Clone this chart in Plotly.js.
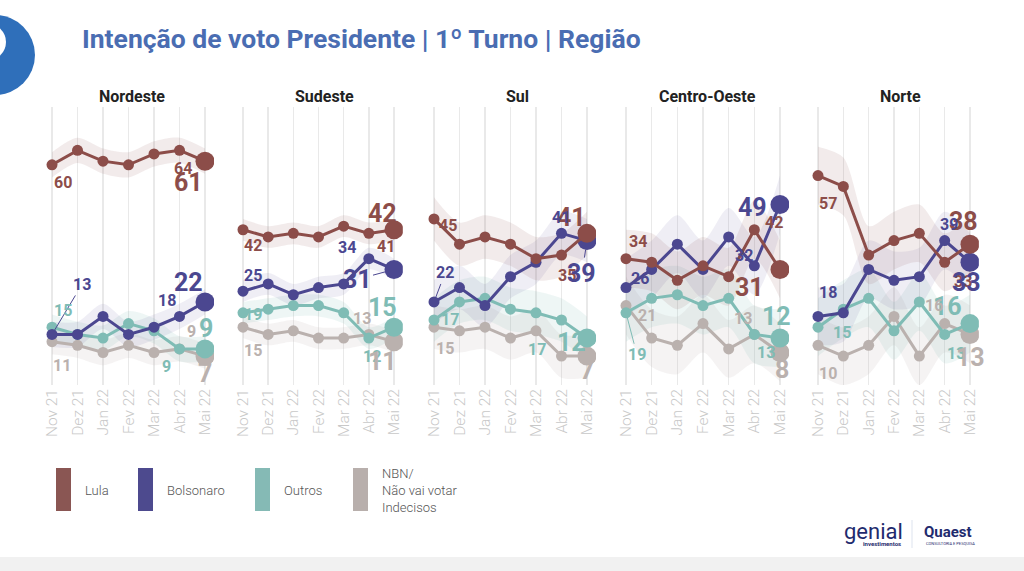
<!DOCTYPE html>
<html><head><meta charset="utf-8">
<script src="https://cdn.plot.ly/plotly-3.0.1.min.js"></script>
<style>html,body{margin:0;padding:0;background:#fff;overflow:hidden}#chart{width:1024px;height:571px}</style>
</head><body><div id="chart"></div><script>
// ---------- DATA ----------
const months = ['Nov 21','Dez 21','Jan 22','Fev 22','Mar 22','Abr 22','Mai 22'];
const regions = ['Nordeste','Sudeste','Sul','Centro-Oeste','Norte'];
const seriesNames = ['Lula','Bolsonaro','Outros','NBN'];
const legendLabels = ['Lula','Bolsonaro','Outros','NBN/<br>Não vai votar<br>Indecisos'];

const lulaNordeste      = [60,64,61,60,63,64,61];
const bolsonaroNordeste = [13,13,18,13,15,18,22];
const outrosNordeste    = [15,13,12,16,14,9,9];
const nbnNordeste       = [11,10,8,10,8,9,7];

const lulaSudeste      = [42,40,41,40,43,41,42];
const bolsonaroSudeste = [25,27,24,26,27,34,31];
const outrosSudeste    = [19,20,21,21,19,12,15];
const nbnSudeste       = [15,13,14,12,12,13,11];

const lulaSul      = [45,38,40,38,34,35,41];
const bolsonaroSul = [22,26,21,29,33,41,39];
const outrosSul    = [17,22,23,20,19,17,12];
const nbnSul       = [15,14,15,12,14,7,7];

const lulaCentroOeste      = [34,33,28,32,29,42,31];
const bolsonaroCentroOeste = [26,31,38,31,40,32,49];
const outrosCentroOeste    = [19,23,24,21,23,13,12];
const nbnCentroOeste       = [21,12,10,16,9,13,8];

const lulaNorte      = [57,54,35,39,41,33,38];
const bolsonaroNorte = [18,19,31,28,29,39,33];
const outrosNorte    = [15,20,23,14,22,13,16];
const nbnNorte       = [10,7,10,18,7,16,13];

const errorMargins = [3.5, 3, 6, 8, 8]; // per region

// ---------- STYLE / LAYOUT CONFIG ----------
const W = 1024, H = 571;
const colors = {Lula:'#8c4d49', Bolsonaro:'#4b4790', Outros:'#7fbcb5', NBN:'#bab1ae'};
const bandColors = {Lula:'rgba(140,77,73,0.11)', Bolsonaro:'rgba(75,71,144,0.09)', Outros:'rgba(127,188,181,0.13)', NBN:'rgba(186,177,174,0.15)'};
const legendColors = {Lula:'#8a5653', Bolsonaro:'#4d4a8e', Outros:'#85bab5', NBN:'#b8afac'};
const dataByRegion = [
  [lulaNordeste, bolsonaroNordeste, outrosNordeste, nbnNordeste],
  [lulaSudeste, bolsonaroSudeste, outrosSudeste, nbnSudeste],
  [lulaSul, bolsonaroSul, outrosSul, nbnSul],
  [lulaCentroOeste, bolsonaroCentroOeste, outrosCentroOeste, nbnCentroOeste],
  [lulaNorte, bolsonaroNorte, outrosNorte, nbnNorte]
];
const novPx = [52,243,434,626,818], maiPx = [205,394,587,780,970];
const titlePx = [132,324,517,707,900];
const yTopPx = 107, yBotPx = 385;
// label offsets [dx, dy(screen down), arrow?] for Nov, Abr, Mai
const labelOffsets = [
  { Lula:[[11,18],[3,18],[-17,21]], Bolsonaro:[[30,-50,1],[-13,-16],[-17,-19]], Outros:[[11,-17],[-13,18],[1,-20]], NBN:[[10,24],[12,-17],[0,17]] },
  { Lula:[[10,16],[17,13],[-12,-16]], Bolsonaro:[[10,-16],[-22,-11],[-37,10,1]], Outros:[[10,2],[3,18],[-12,-20]], NBN:[[10,23],[-7,-16],[-12,20]] },
  { Lula:[[14,7],[6,20],[-15,-16]], Bolsonaro:[[11,-29,1],[0,-16],[-5,33,1]], Outros:[[16,-1],[-24,29],[-15,4]], NBN:[[11,21],null,[0,14]] },
  { Lula:[[12,-17],[20,-7],[-30,18]], Bolsonaro:[[14,-9],[-10,-10],[-27,3]], Outros:[[11,42,1],[12,18],[-3,-22]], NBN:[[21,10],[-11,-16],[2,17]] },
  { Lula:[[10,28],[18,19],[-7,-23]], Bolsonaro:[[10,-24],[4,-16],[-4,20]], Outros:[[24,5],[11,19],[-23,-17]], NBN:[[10,28],[-11,-18],[0,23]] }
];
const FONT = 'Roboto, "Open Sans", sans-serif';

const px2x = p => p / W;
const px2y = p => 1 - p / H;

const traces = [];
const annotations = [];
const shapes = [];
const layout = {
  width: W, height: H, margin:{l:0,r:0,t:0,b:0},
  paper_bgcolor:'#fff', plot_bgcolor:'rgba(0,0,0,0)', showlegend:false,
  font:{family:FONT}
};

function paperText(xp, yp, text, font, xanchor, extra) {
  annotations.push(Object.assign({xref:'paper', yref:'paper', x:px2x(xp), y:px2y(yp), text:text,
    showarrow:false, xanchor:xanchor||'center', yanchor:'middle', font:font}, extra||{}));
}

const xIdx = months.map((m,i)=>i);
const drawOrder = [3,2,1,0]; // NBN, Outros, Bolsonaro, Lula

regions.forEach((reg, r) => {
  const ax = r===0 ? '' : String(r+1);
  const unit = (maiPx[r]-novPx[r])/6;
  const pad = 0.35;
  layout['xaxis'+ax] = {
    domain:[px2x(novPx[r]-pad*unit), px2x(maiPx[r]+pad*unit)],
    range:[-pad, 6+pad], anchor:'y'+ax,
    tickmode:'array', tickvals:xIdx, ticktext:months, tickangle:-90,
    tickfont:{size:15.5, color:'#c8c8c8', family:FONT, weight:300},
    showgrid:true, gridcolor:'#e9e9e9', gridwidth:1.5,
    zeroline:false, showline:false, ticks:'', fixedrange:true
  };
  layout['yaxis'+ax] = {
    domain:[px2y(yBotPx), px2y(yTopPx)], range:[-1,76], anchor:'x'+ax,
    showgrid:false, zeroline:false, showticklabels:false, showline:false, fixedrange:true
  };
  const xr = 'x'+ax, yr = 'y'+ax;
  const m = errorMargins[r];
  // bands
  drawOrder.forEach(s => {
    const name = seriesNames[s];
    const vals = dataByRegion[r][s];
    traces.push({x:xIdx, y:vals.map(v=>v+m), xaxis:xr, yaxis:yr, mode:'lines',
      line:{width:0, shape:'spline', smoothing:0.8}, hoverinfo:'skip'});
    traces.push({x:xIdx, y:vals.map(v=>v-m), xaxis:xr, yaxis:yr, mode:'lines', fill:'tonexty',
      fillcolor:bandColors[name], line:{width:0, shape:'spline', smoothing:0.8}, hoverinfo:'skip'});
  });
  // lines
  drawOrder.forEach(s => {
    const name = seriesNames[s];
    const vals = dataByRegion[r][s];
    traces.push({x:xIdx, y:vals, xaxis:xr, yaxis:yr, mode:'lines+markers', name:name,
      line:{color:colors[name], width:3},
      marker:{color:colors[name], opacity:1, line:{width:0},
        size:vals.map((v,i)=> i===vals.length-1 ? 19 : 11)}});
  });
  // labels
  seriesNames.forEach((name, s) => {
    const vals = dataByRegion[r][s];
    const idxs = [0,5,6];
    labelOffsets[r][name].forEach((off, k) => {
      if (!off) return;
      const i = idxs[k];
      const big = i===6;
      const a = {xref:xr, yref:yr, x:i, y:vals[i], text:String(vals[i]), xanchor:'center', yanchor:'middle',
        font:{family:FONT, size: big?25:16, color:colors[name], weight:700}};
      if (off[2]) {
        Object.assign(a, {showarrow:true, ax:off[0], ay:off[1], arrowhead:0, arrowwidth:1, arrowcolor:colors[name], standoff: big?9:5});
      } else {
        Object.assign(a, {showarrow:false, xshift:off[0], yshift:-off[1]});
      }
      annotations.push(a);
    });
  });
  // panel title
  paperText(titlePx[r], 97, '<b>'+reg+'</b>', {size:16, color:'#222', family:FONT});
});

// Title
paperText(80, 39, '<b>Intenção de voto Presidente | 1º Turno | Região</b>', {size:26.5, color:'#4a6db2', family:FONT}, 'left');

// Decorative ring at left
shapes.push({type:'circle', xref:'paper', yref:'paper', x0:px2x(-45), x1:px2x(35), y0:px2y(95), y1:px2y(15),
  fillcolor:'#2f6fba', line:{width:0}});
shapes.push({type:'circle', xref:'paper', yref:'paper', x0:px2x(-30), x1:px2x(6), y0:px2y(60), y1:px2y(24),
  fillcolor:'#ffffff', line:{width:0}});

// Legend
const legX = [56,138,255,353];
seriesNames.forEach((name,s) => {
  shapes.push({type:'rect', xref:'paper', yref:'paper', x0:px2x(legX[s]), x1:px2x(legX[s]+15),
    y0:px2y(511), y1:px2y(468), fillcolor:legendColors[name], line:{width:0}});
  paperText(legX[s]+27, 490, legendLabels[s], {size:13, color:'#555', family:FONT, weight:300}, 'left', {align:'left'});
});

// Bottom strip and logos
shapes.push({type:'rect', xref:'paper', yref:'paper', x0:0, x1:1, y0:0, y1:px2y(557), fillcolor:'#f1f1f1', line:{width:0}, layer:'below'});
shapes.push({type:'line', xref:'paper', yref:'paper', x0:px2x(912), x1:px2x(912), y0:px2y(520), y1:px2y(548), line:{color:'#dde3ee', width:1}});
paperText(873, 531, 'genial', {size:22, color:'#1f2b6e', family:FONT});
paperText(882, 543, '<b>investimentos</b>', {size:6, color:'#1f2b6e', family:FONT});
paperText(948, 532, '<b>Quaest</b>', {size:15, color:'#1f2b6e', family:FONT});
paperText(950, 543, 'CONSULTORIA E PESQUISA', {size:4, color:'#1f2b6e', family:FONT});

layout.annotations = annotations;
layout.shapes = shapes;
Plotly.newPlot('chart', traces, layout, {displayModeBar:false, staticPlot:true});
</script></body></html>
